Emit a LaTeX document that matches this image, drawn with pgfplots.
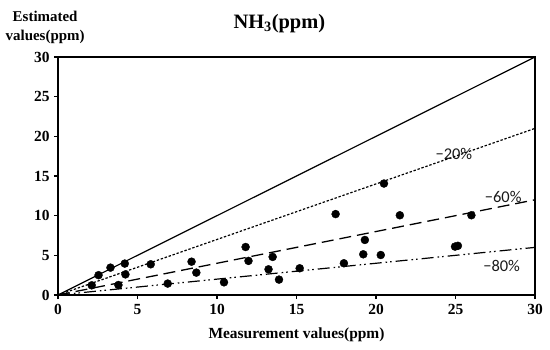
\documentclass[border=0pt]{standalone}
\usepackage{fontspec}
\setmainfont{Liberation Serif}
\newfontfamily\calibri{Carlito}
\usepackage{pgfplots}
\pgfplotsset{compat=1.18}
\begin{document}
\begin{tikzpicture}
\begin{axis}[
  scale only axis,
  width=477bp, height=238bp,
  at={(0,0)}, anchor=south west,
  xmin=0, xmax=30, ymin=0, ymax=30,
  xtick={0,5,...,30}, ytick={0,5,...,30},
  xtick pos=bottom, ytick pos=left,
  tick align=outside,
  major tick length=4bp,
  every tick/.style={line width=1.2pt, black},
  axis line style={line width=1.3pt},
  /pgf/number format/assume math mode=true,
  tick label style={font=\bfseries\fontsize{15.5}{15.5}\selectfont},
  xticklabel style={yshift=-2bp},
  yticklabel style={xshift=-1bp},
  xlabel={Measurement values(ppm)},
  every axis x label/.style={at={(axis description cs:0.5,-0.168)}, anchor=center, font=\bfseries\fontsize{15.5}{15.5}\selectfont},
  ylabel={Estimated\\values(ppm)},
  every axis y label/.style={at={(axis description cs:-0.027,1.126)}, anchor=center, align=center, font=\bfseries\fontsize{15}{19}\selectfont},
  title={NH\textsubscript{3}(ppm)},
  every axis title/.style={at={(axis description cs:0.464,1.139)}, anchor=center, font=\bfseries\fontsize{20.5}{20.5}\selectfont},
  clip=false,
]
\addplot[black, line width=1.2pt] coordinates {(0,0) (30,30)};
\addplot[black, line width=1.2pt, dash pattern=on 2.4pt off 1.8pt] coordinates {(0,0) (30,21)};
\addplot[black, line width=1.3pt, dash pattern=on 12pt off 6pt] coordinates {(0,0) (30,12)};
\addplot[black, line width=1.2pt, dash pattern=on 12pt off 4pt on 1.6pt off 3pt on 1.6pt off 4pt] coordinates {(0,0) (30,6)};
\addplot[only marks, mark=*, mark size=4pt, black] coordinates {
(2.12,1.22) (2.55,2.5) (3.3,3.45) (4.2,3.96) (4.24,2.6) (3.8,1.26)
(5.83,3.87) (6.9,1.44) (8.4,4.2) (8.7,2.82) (10.44,1.6) (11.8,6.05)
(11.98,4.3) (13.5,4.8) (13.24,3.24) (13.9,1.94) (15.2,3.37) (17.46,10.2)
(17.98,4.0) (19.2,5.13) (19.3,6.94) (20.3,5.04) (20.5,14.05) (21.5,10.05)
(24.97,6.1) (25.15,6.2) (26.0,10.05)
};
\node[font=\calibri\fontsize{16.5}{16.5}\selectfont, text=black!90] at (axis cs:24.9,17.8) {−20\%};
\node[font=\calibri\fontsize{16.5}{16.5}\selectfont, text=black!90] at (axis cs:28,12.3) {−60\%};
\node[font=\calibri\fontsize{16.5}{16.5}\selectfont, text=black!90] at (axis cs:27.9,3.7) {−80\%};
\draw[line width=2pt] (axis cs:0,0) -- (axis cs:0,30);
\draw[line width=2pt] (axis cs:0,0) -- (axis cs:30,0);
\end{axis}
\pgfresetboundingbox
\path (-58bp,-55bp) rectangle (492bp,295bp);
\end{tikzpicture}
\end{document}
